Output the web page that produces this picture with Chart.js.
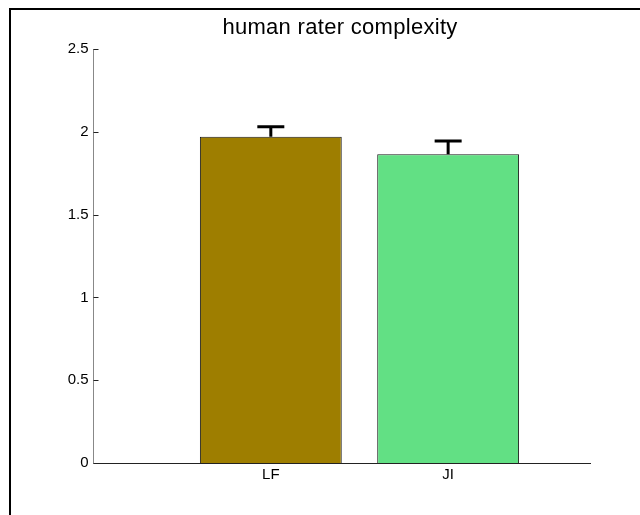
<!DOCTYPE html>
<html>
<head>
<meta charset="utf-8">
<title>human rater complexity</title>
<script src="https://cdn.jsdelivr.net/npm/chart.js@4"></script>
<style>
  html, body { margin: 0; padding: 0; background: #fff; }
  #wrap { width: 640px; height: 515px; position: relative; }
</style>
</head>
<body>
<div id="wrap"><canvas id="chart" width="640" height="515"></canvas></div>
<script>
// rating data
const categories = ['LF', 'JI'];
const means = [1.97, 1.865];
const errs = [0.06, 0.08];
const barColors = ['#9e7e00', '#62e084'];
const yTicks = [0, 0.5, 1, 1.5, 2, 2.5];

const FONT = 'Arial, "Liberation Sans", sans-serif';

// frame lines, inward y ticks, error bars and title
const extras = {
    id: 'extras',
    beforeDraw(chart) {
        const ctx = chart.ctx;
        ctx.save();
        ctx.fillStyle = '#fff';
        ctx.fillRect(0, 0, chart.width, chart.height);
        ctx.fillStyle = '#000';
        ctx.fillRect(9, 8, chart.width - 9, 2);
        ctx.fillRect(9, 8, 2, chart.height - 8);
        ctx.restore();
    },
    afterDatasetsDraw(chart) {
        const ctx = chart.ctx;
        const x = chart.scales.x, y = chart.scales.y;
        const area = chart.chartArea;
        ctx.save();
        // y ticks pointing into the plot
        ctx.strokeStyle = '#222';
        ctx.lineWidth = 1;
        yTicks.forEach(v => {
            const py = Math.round(y.getPixelForValue(v)) + 0.5;
            ctx.beginPath();
            ctx.moveTo(area.left, py);
            ctx.lineTo(area.left + 5, py);
            ctx.stroke();
        });
        // upper error bars
        ctx.strokeStyle = '#000';
        ctx.lineWidth = 3;
        means.forEach((m, i) => {
            const px = x.getPixelForValue(i + 1);
            const top = y.getPixelForValue(m + errs[i]);
            const base = y.getPixelForValue(m);
            ctx.beginPath();
            ctx.moveTo(px, base);
            ctx.lineTo(px, top);
            ctx.moveTo(px - 13.5, top);
            ctx.lineTo(px + 13.5, top);
            ctx.stroke();
        });
        // title
        ctx.fillStyle = '#000';
        ctx.font = '22px ' + FONT;
        ctx.letterSpacing = '0.3px';
        ctx.textAlign = 'center';
        ctx.textBaseline = 'alphabetic';
        ctx.fillText('human rater complexity', 340, 34);
        ctx.restore();
    }
};

new Chart(document.getElementById('chart'), {
    type: 'bar',
    data: {
        datasets: [{
            data: means.map((m, i) => ({ x: i + 1, y: m })),
            backgroundColor: barColors,
            borderColor: '#1a1a1a',
            borderWidth: 1,
            barPercentage: 0.8,
            categoryPercentage: 1
        }]
    },
    options: {
        responsive: false,
        animation: false,
        layout: { padding: { left: 0, right: 50, top: 49, bottom: 0 } },
        plugins: { legend: { display: false }, tooltip: { enabled: false }, title: { display: false } },
        scales: {
            x: {
                type: 'linear',
                min: 0,
                max: 2.8,
                offset: false,
                grid: { display: false, drawTicks: false },
                border: { display: true, color: '#222', width: 1 },
                afterBuildTicks: s => { s.ticks = categories.map((c, i) => ({ value: i + 1 })); },
                afterFit: s => { s.height = 52; },
                ticks: {
                    padding: 3,
                    color: '#000',
                    font: { family: FONT, size: 15 },
                    callback: v => categories[v - 1] ?? ''
                }
            },
            y: {
                min: 0,
                max: 2.5,
                grid: { display: false, drawTicks: false },
                border: { display: true, color: '#888', width: 1 },
                afterBuildTicks: s => { s.ticks = yTicks.map(v => ({ value: v })); },
                afterFit: s => { s.width = 93.5; },
                ticks: {
                    padding: 5,
                    color: '#000',
                    font: { family: FONT, size: 15 },
                    callback: v => String(v)
                }
            }
        }
    },
    plugins: [extras]
});
</script>
</body>
</html>
